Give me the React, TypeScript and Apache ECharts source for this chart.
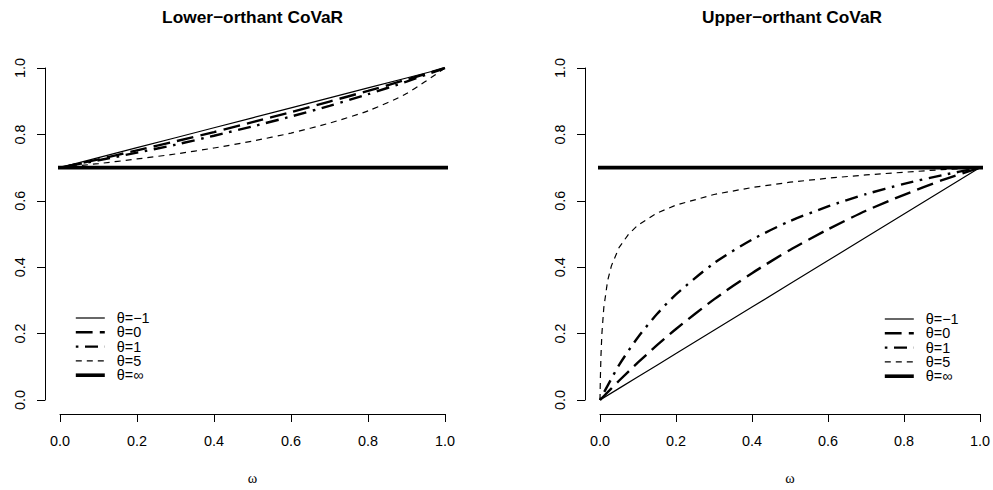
import React, { useEffect, useRef } from "react";
import * as echarts from "echarts";

// ---- data ----
const thetaLabels = ["θ=−1", "θ=0", "θ=1", "θ=5", "θ=∞"];

// Lower-orthant panel
const omegaLower = [0, 0.1, 0.2, 0.3, 0.4, 0.5, 0.6, 0.7, 0.8, 0.9, 1.0];
const lowerThetaNeg1 = [0.7, 0.73, 0.76, 0.79, 0.82, 0.85, 0.88, 0.91, 0.94, 0.97, 1.0];
const lowerTheta0 = [0.7, 0.725, 0.752, 0.779, 0.807, 0.837, 0.867, 0.899, 0.931, 0.965, 1.0];
const lowerTheta1 = [0.7, 0.722, 0.745, 0.769, 0.796, 0.824, 0.854, 0.886, 0.921, 0.959, 1.0];
const lowerTheta5 = [0.7, 0.712, 0.726, 0.741, 0.759, 0.78, 0.804, 0.834, 0.871, 0.923, 1.0];
const lowerThetaInf = 0.7;

// Upper-orthant panel
const omegaUpper = [0, 0.05, 0.1, 0.15, 0.2, 0.3, 0.4, 0.5, 0.6, 0.7, 0.8, 0.9, 1.0];
const upperThetaNeg1 = [0, 0.035, 0.07, 0.105, 0.14, 0.21, 0.28, 0.35, 0.42, 0.49, 0.56, 0.63, 0.7];
const upperTheta0 = [0, 0.058, 0.113, 0.165, 0.214, 0.303, 0.382, 0.452, 0.514, 0.57, 0.618, 0.662, 0.7];
const upperTheta1 = [0, 0.105, 0.189, 0.259, 0.318, 0.412, 0.483, 0.539, 0.583, 0.62, 0.651, 0.677, 0.7];
const omegaUpperSteep = [0, 0.001, 0.0025, 0.005, 0.01, 0.02, 0.03, 0.05, 0.075, 0.1, 0.15, 0.2, 0.3, 0.4, 0.5, 0.6, 0.7, 0.8, 0.9, 1.0];
const upperTheta5 = [0, 0.067, 0.132, 0.2, 0.278, 0.359, 0.404, 0.459, 0.499, 0.527, 0.563, 0.587, 0.619, 0.64, 0.656, 0.668, 0.678, 0.686, 0.694, 0.7];
const upperThetaInf = 0.7;

// plot-region extent in data units (R's 4% axis extension) for the horizontal reference line
const plotRegionX = [-0.04, 1.04];

const FONT = "Liberation Sans, Arial, Helvetica, sans-serif";

const lineStyles: any[] = [
  { color: "#000", width: 1.2, type: "solid" },
  { color: "#000", width: 2.4, type: [16.8, 7.2] },
  { color: "#000", width: 2.4, type: [2.6, 6.6, 13, 6.6] },
  { color: "#000", width: 1.2, type: [6, 5] },
  { color: "#000", width: 3.6, type: "solid" },
];

function pairs(xs: number[], ys: number[]) {
  return xs.map((x, i) => [x, ys[i]]);
}

function makeAxes(gi: number) {
  const x = {
    gridIndex: gi,
    type: "value",
    min: 0,
    max: 1,
    interval: 0.2,
    offset: 14,
    axisLine: { show: true, onZero: false, lineStyle: { color: "#000", width: 1 } },
    axisTick: { show: true, length: 8, lineStyle: { color: "#000", width: 1 } },
    axisLabel: {
      formatter: (v: number) => v.toFixed(1),
      fontSize: 14.4,
      color: "#000",
      margin: 20,
      fontFamily: FONT,
      showMinLabel: true,
      showMaxLabel: true,
    },
    splitLine: { show: false },
    name: "ω",
    nameLocation: "middle",
    nameGap: 57,
    nameTextStyle: { fontFamily: "Liberation Serif, DejaVu Serif, serif", fontSize: 14.4, color: "#000" },
  };
  const y = {
    gridIndex: gi,
    type: "value",
    min: 0,
    max: 1,
    interval: 0.2,
    offset: 15,
    axisLine: { show: true, onZero: false, lineStyle: { color: "#000", width: 1 } },
    axisTick: { show: true, length: 8, lineStyle: { color: "#000", width: 1 } },
    axisLabel: {
      formatter: (v: number) => v.toFixed(1),
      fontSize: 14.4,
      color: "#000",
      margin: 18,
      rotate: 90,
      fontFamily: FONT,
      showMinLabel: true,
      showMaxLabel: true,
    },
    splitLine: { show: false },
  };
  return { x, y };
}

function lineSeries(gi: number, idx: number, data: number[][], clip = true, smooth: any = 0.25) {
  return {
    type: "line",
    name: thetaLabels[idx],
    xAxisIndex: gi,
    yAxisIndex: gi,
    data,
    symbol: "none",
    showSymbol: false,
    smooth,
    clip,
    lineStyle: { ...lineStyles[idx], cap: "butt" },
    itemStyle: { color: "#000" },
    emphasis: { disabled: true },
    silent: true,
    z: 2 + idx,
  };
}

function legend(left: number, top: number) {
  return {
    orient: "vertical",
    left,
    top,
    padding: 0,
    itemGap: 0.3,
    itemWidth: 29,
    itemHeight: 14,
    selectedMode: false,
    data: thetaLabels,
    textStyle: { fontSize: 14.4, fontFamily: FONT, color: "#000", lineHeight: 14, padding: [0, 0, 0, 7] },
    lineStyle: { width: "inherit", type: "inherit", color: "inherit", cap: "butt" },
    itemStyle: { color: "rgba(0,0,0,0)", borderWidth: 0, opacity: 0 },
  };
}

export default function App() {
  const ref = useRef<HTMLDivElement>(null);
  useEffect(() => {
    document.body.style.margin = "0";
    const chart = echarts.init(ref.current!, null, { renderer: "svg" });
    const a0 = makeAxes(0);
    const a1 = makeAxes(1);
    const option: any = {
      animation: false,
      backgroundColor: "#fff",
      title: [
        {
          text: "Lower−orthant CoVaR",
          left: 252.6,
          top: 8,
          padding: 0,
          textAlign: "center",
          textStyle: { fontSize: 17.3, fontWeight: "bold", fontFamily: FONT, color: "#000" },
        },
        {
          text: "Upper−orthant CoVaR",
          left: 792,
          top: 8,
          padding: 0,
          textAlign: "center",
          textStyle: { fontSize: 17.3, fontWeight: "bold", fontFamily: FONT, color: "#000" },
        },
      ],
      grid: [
        { left: 60, top: 68, width: 385, height: 332, containLabel: false },
        { left: 600, top: 68, width: 384, height: 332, containLabel: false },
      ],
      xAxis: [a0.x, a1.x],
      yAxis: [a0.y, a1.y],
      legend: [legend(74, 311), legend(883, 312)],
      series: [
        lineSeries(0, 0, pairs(omegaLower, lowerThetaNeg1), true, false),
        lineSeries(0, 1, pairs(omegaLower, lowerTheta0)),
        lineSeries(0, 2, pairs(omegaLower, lowerTheta1)),
        lineSeries(0, 3, pairs(omegaLower, lowerTheta5)),
        lineSeries(0, 4, plotRegionX.map((x) => [x, lowerThetaInf]), false, false),
        lineSeries(1, 0, pairs(omegaUpper, upperThetaNeg1), true, false),
        lineSeries(1, 1, pairs(omegaUpper, upperTheta0)),
        lineSeries(1, 2, pairs(omegaUpper, upperTheta1)),
        lineSeries(1, 3, pairs(omegaUpperSteep, upperTheta5), true, false),
        lineSeries(1, 4, plotRegionX.map((x) => [x, upperThetaInf]), false, false),
      ],
    };
    chart.setOption(option);
    return () => chart.dispose();
  }, []);
  return <div ref={ref} style={{ width: 993, height: 490 }} />;
}
